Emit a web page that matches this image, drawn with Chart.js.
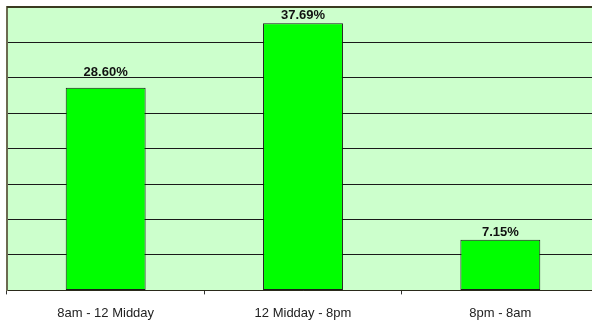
<!DOCTYPE html>
<html>
<head>
<meta charset="utf-8">
<script src="https://cdn.jsdelivr.net/npm/chart.js@4/dist/chart.umd.min.js"></script>
<style>
  html, body { margin: 0; padding: 0; background: #fff; overflow: hidden; }
  #wrap { width: 599px; height: 334px; }
</style>
</head>
<body>
<div id="wrap"><canvas id="c" width="599" height="334"></canvas></div>
<script>
// Share of activity by time of day (percent)
const periods = ['8am - 12 Midday', '12 Midday - 8pm', '8pm - 8am'];
const shares = [28.60, 37.69, 7.15];
const axisMax = 40;
const axisStep = 5;

// Fill the plot area with a pale green before anything else is drawn
const plotBackground = {
  id: 'plotBackground',
  beforeDraw(chart) {
    const { ctx, chartArea: a } = chart;
    ctx.save();
    ctx.fillStyle = '#CCFFCC';
    ctx.fillRect(a.left, a.top, a.right - a.left, a.bottom - a.top);
    ctx.restore();
  },
  afterDraw(chart) {
    // heavier frame line along the top of the plot
    const { ctx, chartArea: a } = chart;
    ctx.save();
    ctx.strokeStyle = '#3a3a20';
    ctx.lineWidth = 2;
    ctx.beginPath();
    ctx.moveTo(a.left, a.top);
    ctx.lineTo(a.right, a.top);
    ctx.stroke();
    ctx.restore();
  }
};

// Print each bar's value above it, lifting a label clear of any gridline it would cross
const valueLabels = {
  id: 'valueLabels',
  afterDatasetsDraw(chart) {
    const { ctx } = chart;
    const yScale = chart.scales.y;
    const gridYs = yScale.ticks.map(t => yScale.getPixelForValue(t.value));
    const meta = chart.getDatasetMeta(0);
    const capHeight = 9.5;
    ctx.save();
    ctx.font = 'bold 13px "Liberation Sans", Arial, sans-serif';
    ctx.fillStyle = '#111';
    ctx.textAlign = 'center';
    ctx.textBaseline = 'alphabetic';
    meta.data.forEach((bar, i) => {
      let base = bar.y - 4;
      gridYs.forEach(g => {
        if (g > base - capHeight - 1 && g < base + 1) base = g - 2;
      });
      ctx.fillText(shares[i].toFixed(2) + '%', bar.x, base);
    });
    ctx.restore();
  }
};

new Chart(document.getElementById('c'), {
  type: 'bar',
  data: {
    labels: periods,
    datasets: [{
      data: shares,
      backgroundColor: '#00FF00',
      borderColor: '#1a1a1a',
      borderWidth: 1,
      borderSkipped: false,
      categoryPercentage: 0.405,
      barPercentage: 1
    }]
  },
  options: {
    responsive: false,
    animation: false,
    devicePixelRatio: 1,
    layout: { padding: { left: 7, top: 7, right: 0, bottom: 2 } },
    plugins: { legend: { display: false }, tooltip: { enabled: false } },
    scales: {
      x: {
        offset: true,
        grid: {
          offset: true,
          drawOnChartArea: false,
          drawTicks: true,
          tickLength: 4,
          color: '#333'
        },
        border: { color: '#2a2a1a', width: 1 },
        ticks: {
          color: '#222',
          font: { family: '"Liberation Sans", Arial, sans-serif', size: 13 },
          padding: 11,
          maxRotation: 0
        }
      },
      y: {
        min: 0,
        max: axisMax,
        ticks: { display: false, stepSize: axisStep },
        grid: { color: '#1a1a1a', drawTicks: false, lineWidth: 1 },
        border: { color: '#6b6b50', width: 2 }
      }
    }
  },
  plugins: [plotBackground, valueLabels]
});
</script>
</body>
</html>
